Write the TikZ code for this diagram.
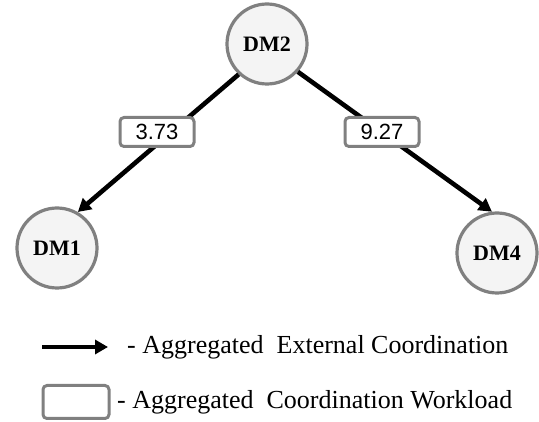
\documentclass[tikz,border=0pt]{standalone}
\usepackage{fontspec}
\setmainfont{Liberation Serif}
\newfontfamily\labelsans{Liberation Sans}
\usetikzlibrary{arrows.meta}

\definecolor{ringgray}{HTML}{808080}
\definecolor{discfill}{HTML}{F4F4F4}

\tikzset{
  dm/.style={circle, draw=ringgray, fill=discfill, line width=3.2pt,
    minimum size=80pt, inner sep=0pt,
    font=\fontsize{22}{24}\selectfont\bfseries},
  weight/.style={rounded corners=4pt, draw=ringgray, fill=white, line width=3pt,
    minimum width=74pt, minimum height=29pt, inner sep=0pt,
    font=\labelsans\fontsize{22}{24}\selectfont},
  flow/.style={line width=4.6pt, -{Triangle[length=13pt,width=14pt]}},
  legendtext/.style={anchor=west, inner sep=0pt,
    font=\fontsize{26}{28}\selectfont}
}

\begin{document}
\begin{tikzpicture}[x=1pt,y=-1pt]
  \useasboundingbox (0,0) rectangle (539,422);

  % decision makers
  \node[dm] (dm2) at (267,44) {DM2};
  \node[dm] (dm1) at (57,248) {DM1};
  \node[dm] (dm4) at (497,253) {DM4};

  % coordination links
  \draw[flow] (dm2.227) -- (dm1.60);
  \draw[flow] (dm2.318) -- (dm4.97);

  % workload labels on the links
  \node[weight] (w1) at (157,132) {3.73};
  \node[weight] (w4) at (382,132) {9.27};

  % legend
  \coordinate (la) at (42,347);
  \coordinate (lb) at (108,347);
  \draw[flow] (la) -- (lb);
  \node[legendtext] (t1) at (127,347) {- Aggregated\ \ External Coordination};

  \node[weight, minimum width=66pt, minimum height=33pt] (lbox) at (76,402) {};
  \node[legendtext] (t2) at (117,402) {- Aggregated\ \ Coordination Workload};
\end{tikzpicture}
\end{document}
